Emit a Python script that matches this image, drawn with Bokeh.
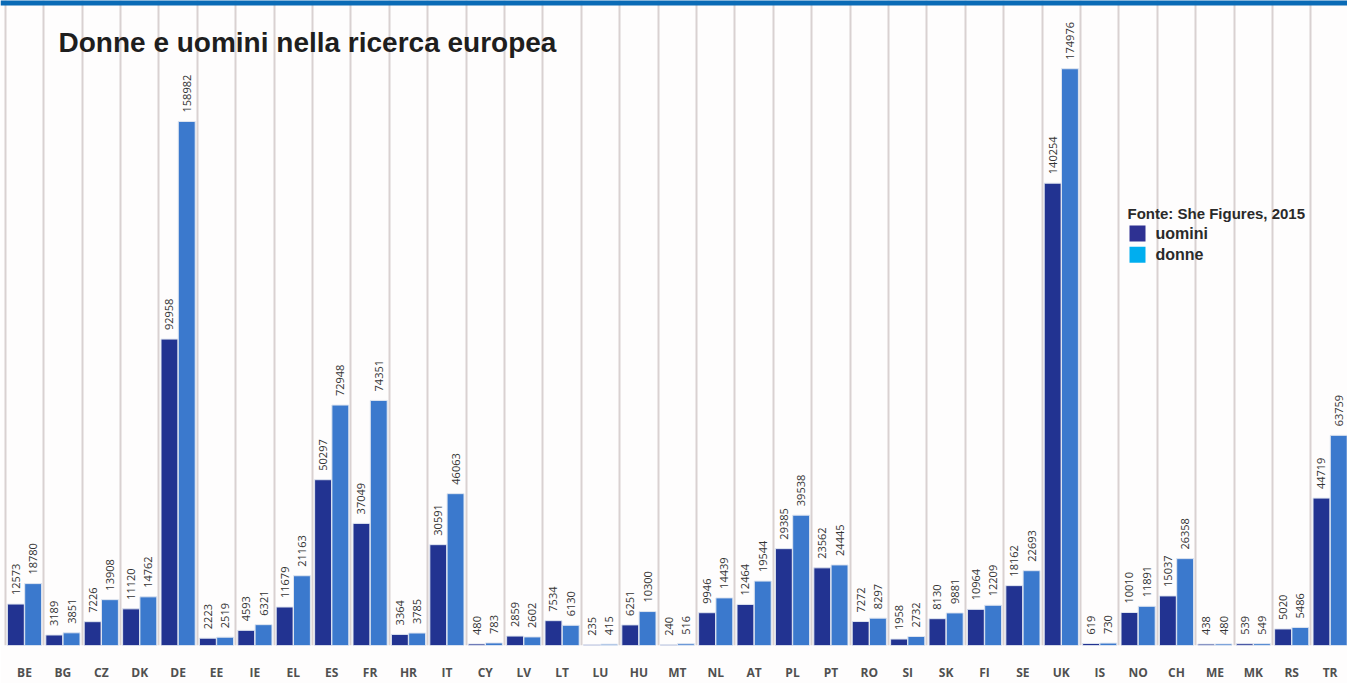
import math
from bokeh.plotting import figure
from bokeh.models import (ColumnDataSource, Range1d, FixedTicker, Label, BoxAnnotation)
from bokeh.core.properties import value
from bokeh.embed import file_html
from bokeh.resources import INLINE

categories = ["BE", "BG", "CZ", "DK", "DE", "EE", "IE", "EL", "ES", "FR", "HR", "IT",
              "CY", "LV", "LT", "LU", "HU", "MT", "NL", "AT", "PL", "PT", "RO", "SI",
              "SK", "FI", "SE", "UK", "IS", "NO", "CH", "ME", "MK", "RS", "TR"]
uomini = [12573, 3189, 7226, 11120, 92958, 2223, 4593, 11679, 50297, 37049, 3364, 30591,
          480, 2859, 7534, 235, 6251, 240, 9946, 12464, 29385, 23562, 7272, 1958,
          8130, 10964, 18162, 140254, 619, 10010, 15037, 438, 539, 5020, 44719]
donne = [18780, 3851, 13908, 14762, 158982, 2519, 6321, 21163, 72948, 74351, 3785, 46063,
         783, 2602, 6130, 415, 10300, 516, 14439, 19544, 39538, 24445, 8297, 2732,
         9881, 12209, 22693, 174976, 730, 11891, 26358, 480, 549, 5486, 63759]
title_text = "Donne e uomini nella ricerca europea"
source_text = "Fonte: She Figures, 2015"
series_names = ["uomini", "donne"]

W, H = 1347, 683
BOTTOM = 31
YMAX = 195680
XSTART, XEND = -0.625, 34.453

C_DARK = "#223391"
C_LIGHT = "#3b79cd"
C_LEG_DARK = "#2e3192"
C_LEG_LIGHT = "#00aeef"
FONT = "Liberation Sans"

idx = list(range(len(categories)))
src_u = ColumnDataSource(dict(x=[i - 0.225 for i in idx], top=uomini,
                              lab=[str(v) for v in uomini]))
src_d = ColumnDataSource(dict(x=[i + 0.225 for i in idx], top=donne,
                              lab=[str(v) for v in donne]))

p = figure(width=W, height=H, output_backend="svg", toolbar_location=None,
           x_range=Range1d(XSTART, XEND), y_range=Range1d(0, YMAX),
           min_border_left=0, min_border_right=0, min_border_top=0,
           min_border_bottom=BOTTOM)
p.background_fill_color = "#fefdfd"
p.border_fill_color = "#fefdfd"
p.outline_line_color = None

p.vbar(x="x", top="top", bottom=0, width=0.44, source=src_u,
       fill_color=C_DARK, line_color="#dfe5f0", line_width=1)
p.vbar(x="x", top="top", bottom=0, width=0.44, source=src_d,
       fill_color=C_LIGHT, line_color="#dfe5f0", line_width=1)

for src in (src_u, src_d):
    p.text(x="x", y="top", text="lab", source=src, angle=math.pi / 2,
           text_align="left", text_baseline="middle", y_offset=-9,
           text_font=value("Open Sans"), text_font_size="11px",
           text_color="#333333")

# axes / grid
p.yaxis.visible = False
p.ygrid.visible = False
ax = p.xaxis[0]
ax.ticker = FixedTicker(ticks=idx)
ax.major_label_overrides = {i: c for i, c in zip(idx, categories)}
ax.axis_line_color = None
ax.major_tick_line_color = None
ax.minor_tick_line_color = None
ax.major_label_standoff = 12
ax.major_label_text_font = "Open Sans"
ax.major_label_text_font_style = "bold"
ax.major_label_text_font_size = "12px"
ax.major_label_text_color = "#505050"

p.xgrid.ticker = FixedTicker(ticks=[i - 0.5 for i in range(len(categories) + 1)])
p.xgrid.grid_line_color = "#d9d1d1"
p.xgrid.grid_line_width = 2

# top stripe
p.add_layout(BoxAnnotation(bottom=YMAX - 5 / (652 / YMAX), top=YMAX + 1000,
                           fill_color="#0a6bb6", fill_alpha=1, line_color=None))

def px_x(px):
    return XSTART + px * (XEND - XSTART) / W

def px_y(py):
    return (652 - py) * YMAX / 652

p.add_layout(Label(x=px_x(58), y=px_y(42), text=title_text,
                   text_font=FONT, text_font_style="bold",
                   text_font_size="28px", text_color="#1e1e1e",
                   text_baseline="alphabetic"))
p.add_layout(Label(x=px_x(1127), y=px_y(215), text=source_text,
                   text_font=FONT, text_font_style="bold",
                   text_font_size="15px", text_color="#2a2a2a",
                   text_baseline="alphabetic"))

# legend squares
leg = ColumnDataSource(dict(x=[px_x(1137), px_x(1137)],
                            y=[px_y(235.5), px_y(257)],
                            c=[C_LEG_DARK, C_LEG_LIGHT],
                            t=series_names,
                            tx=[px_x(1155), px_x(1155)]))
p.rect(x="x", y="y", width=16, height=16, width_units="screen", height_units="screen",
       fill_color="c", line_color=None, source=leg)
p.text(x="tx", y="y", text="t", source=leg, text_baseline="middle",
       text_font=value(FONT), text_font_style="bold", text_font_size="16px",
       text_color="#2a2a2a")

open("out.html", "w").write(file_html(p, INLINE))
